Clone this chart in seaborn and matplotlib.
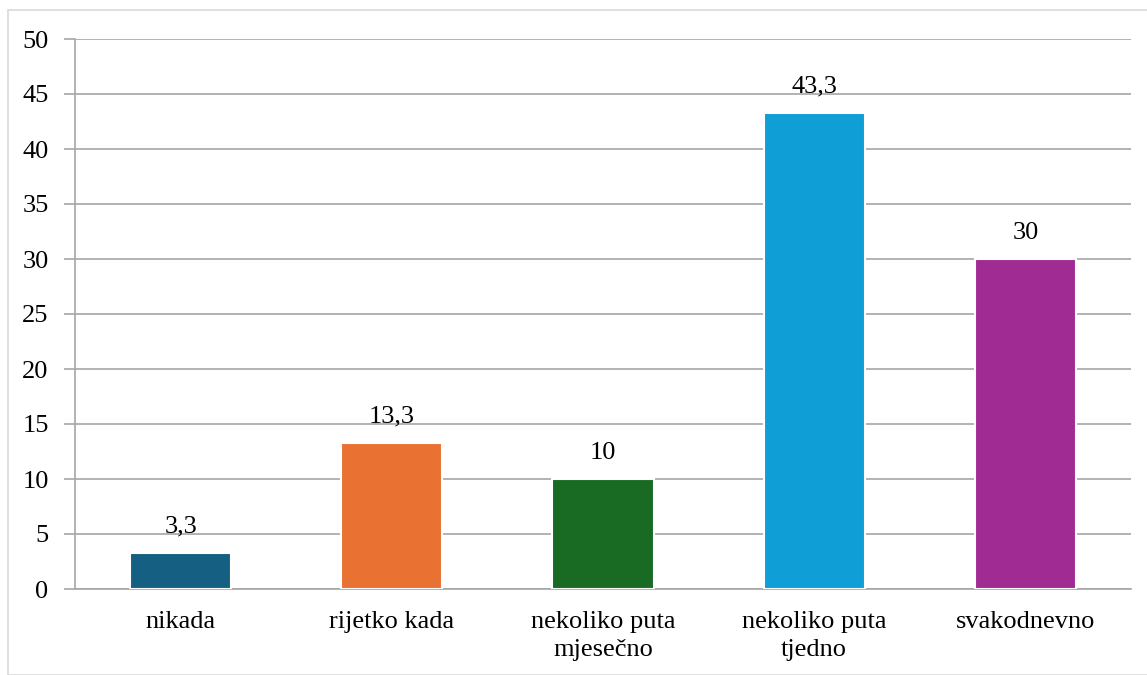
import matplotlib
matplotlib.use("Agg")
import matplotlib.pyplot as plt
import seaborn as sns
import pandas as pd
from matplotlib.patches import Rectangle

categories = ["nikada", "rijetko kada", "nekoliko puta\nmjesečno", "nekoliko puta\ntjedno", "svakodnevno"]
values = [3.3, 13.3, 10, 43.3, 30]
colors = ["#156082", "#e97132", "#196b24", "#0f9ed5", "#a02b93"]
yticks = [0, 5, 10, 15, 20, 25, 30, 35, 40, 45, 50]

sns.set_theme(style="white")
plt.rcParams["font.family"] = ["Liberation Serif", "DejaVu Serif"]

df = pd.DataFrame({"cat": categories, "val": values})

fig = plt.figure(figsize=(11.47, 6.75), dpi=100)
ax = fig.add_axes([75 / 1147, 1 - 589 / 675, (1131 - 75) / 1147, (589 - 39) / 675])

# outer chart border
fig.patches.append(Rectangle((8 / 1147, 0), 1.0, 1 - 10 / 675, transform=fig.transFigure,
                             fill=False, edgecolor="#d9d9d9", linewidth=1.2, zorder=0))

sns.barplot(data=df, x="cat", y="val", hue="cat", palette=colors, legend=False,
            width=0.48, edgecolor="white", linewidth=1.5, saturation=1, ax=ax, zorder=3)

for c, v in zip(ax.containers, values):
    ax.bar_label(c, labels=[f"{v:g}".replace(".", ",")], padding=11, fontsize=19, color="black")

ax.set_ylim(0, 50)
ax.set_xlim(-0.5, len(categories) - 0.5)
ax.set_yticks(yticks)
ax.set_yticklabels([str(t) for t in yticks], fontsize=19)
for lbl in ax.get_xticklabels():
    lbl.set_linespacing(1.35)
ax.set_xlabel("")
ax.set_ylabel("")
ax.tick_params(axis="x", labelsize=19, length=0, pad=16, labelcolor="black")
ax.set_xticks([i - 0.5 for i in range(len(categories) + 1)], minor=True)
ax.tick_params(axis="x", which="minor", length=8, color="#a6a6a6", width=1.2, direction="out")
ax.tick_params(axis="y", length=8, color="#a6a6a6", width=1.2, direction="out", pad=11,
               left=True, labelcolor="black")

ax.yaxis.grid(True, color="#a6a6a6", linewidth=1.2, zorder=0)
ax.set_axisbelow(True)
for s in ["top", "right"]:
    ax.spines[s].set_visible(False)
for s in ["left", "bottom"]:
    ax.spines[s].set_color("#a6a6a6")
    ax.spines[s].set_linewidth(1.2)

fig.savefig("out.png", dpi=100)
